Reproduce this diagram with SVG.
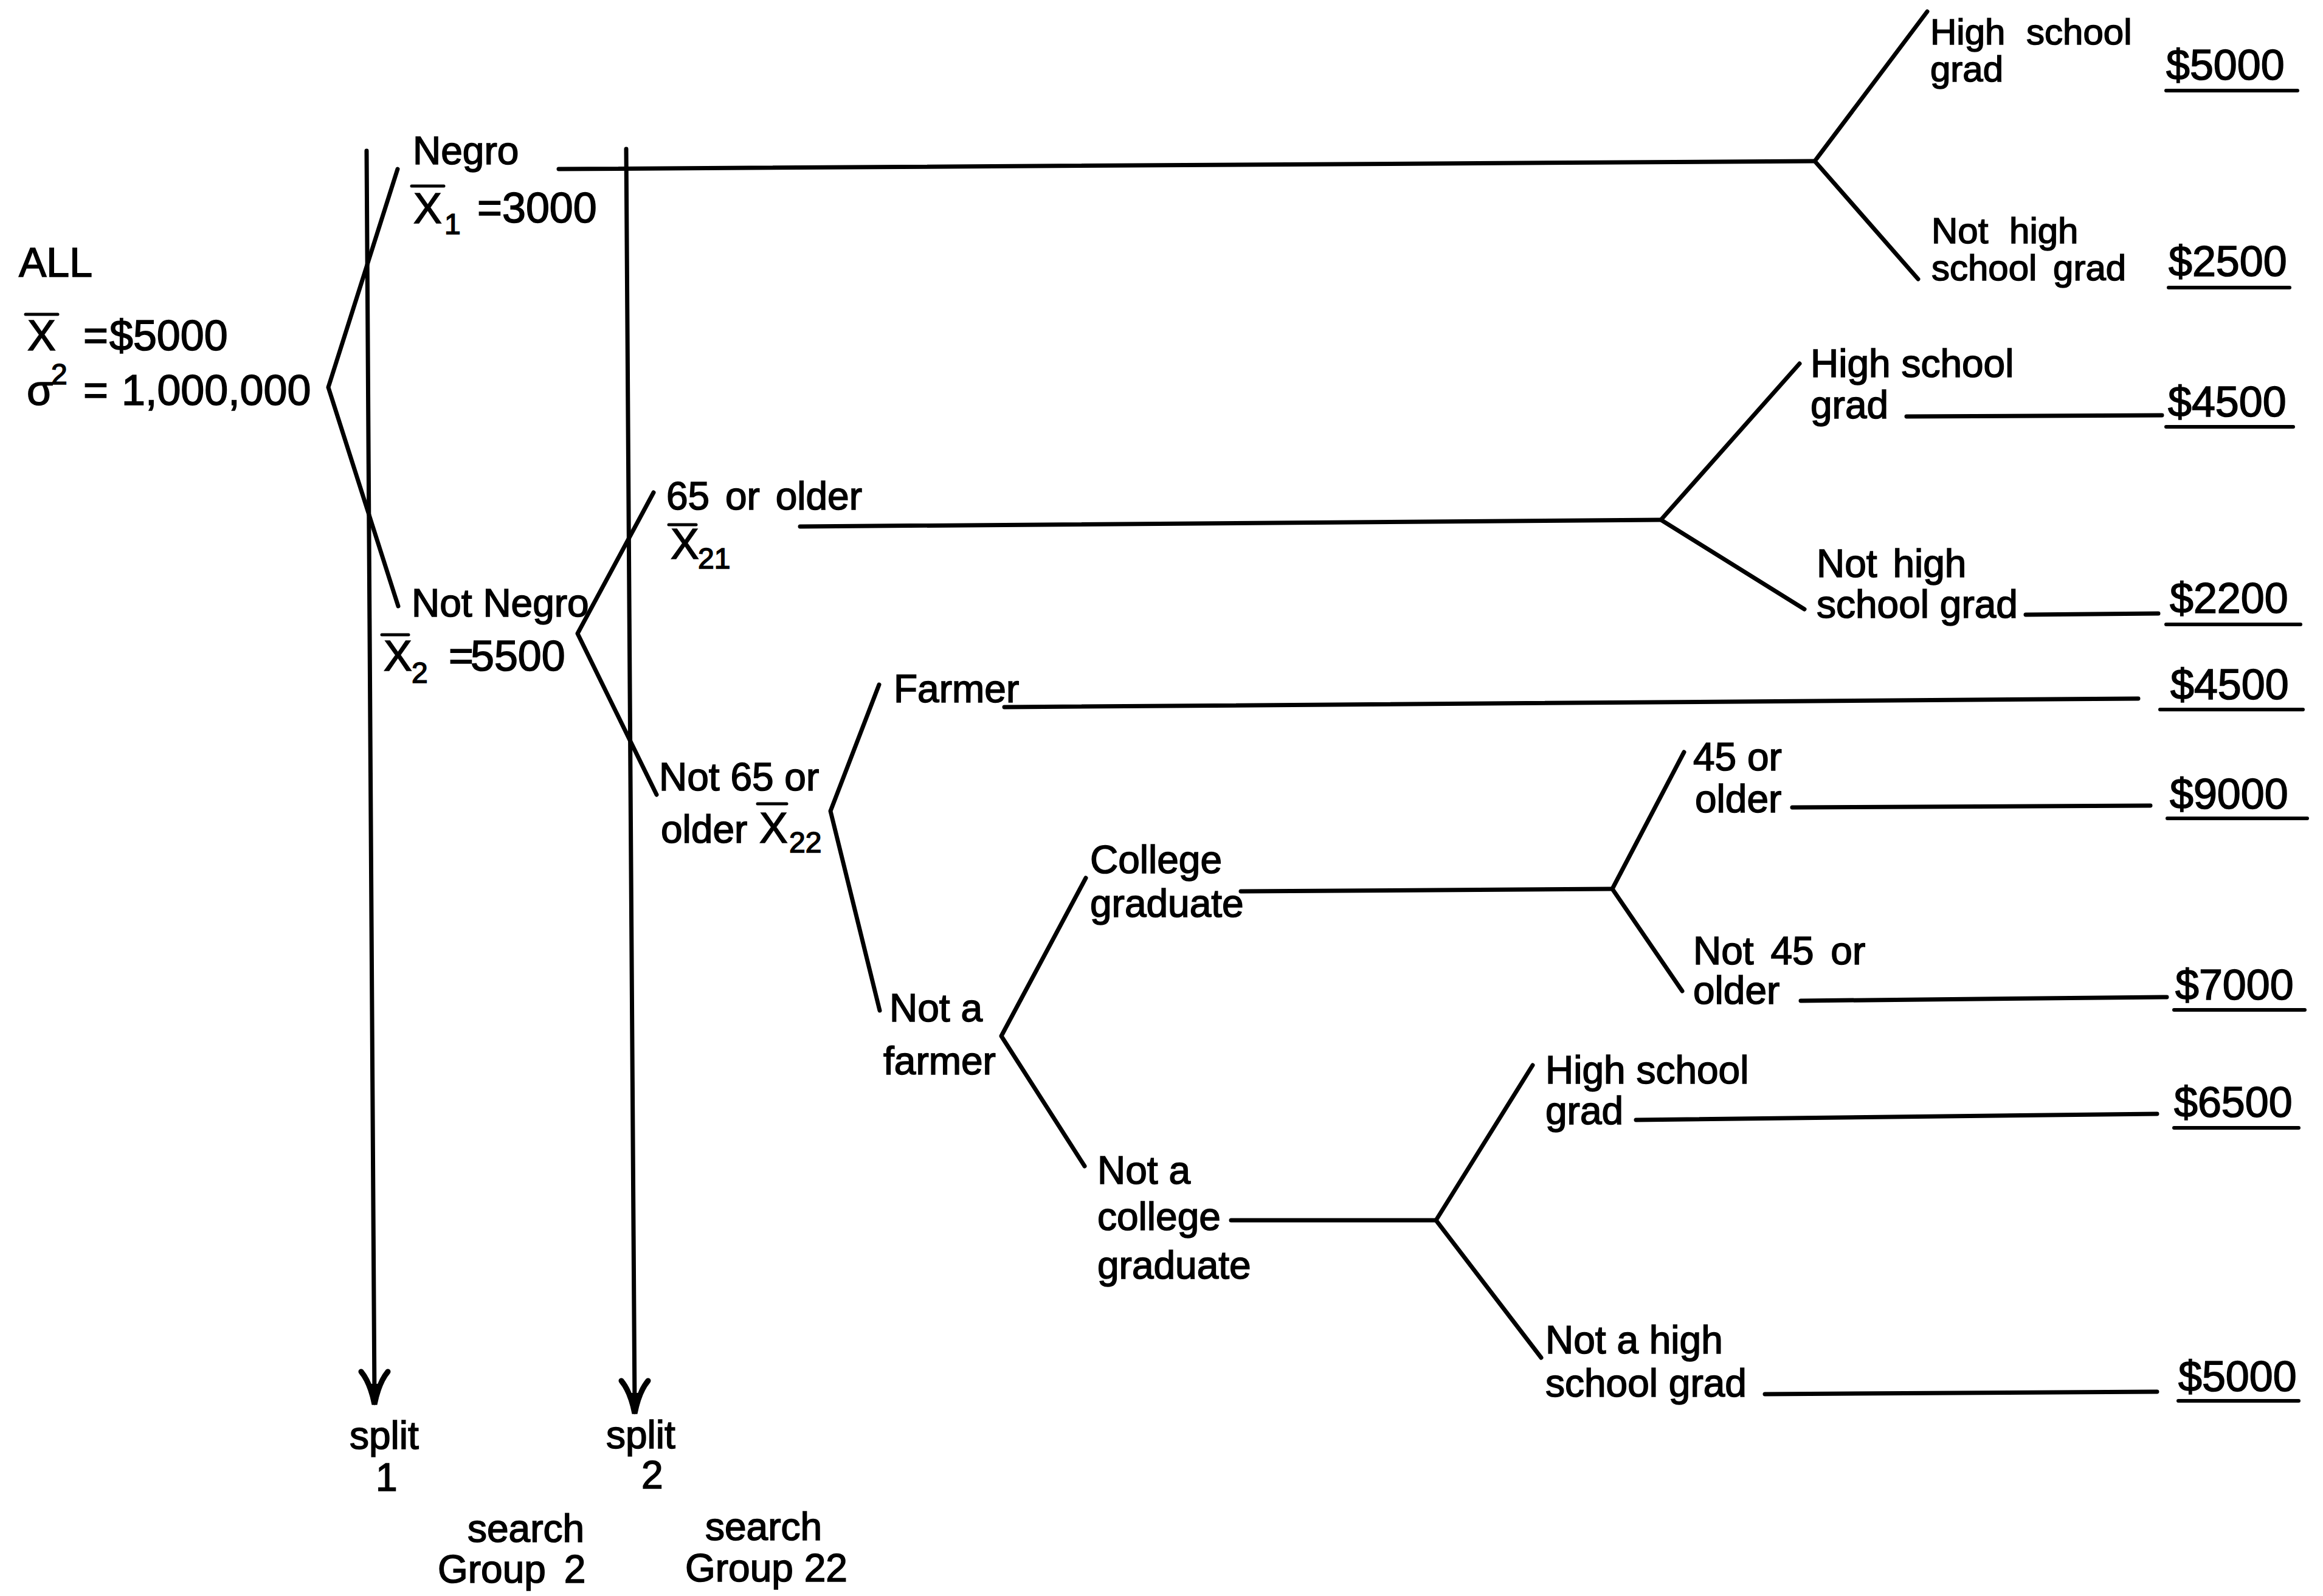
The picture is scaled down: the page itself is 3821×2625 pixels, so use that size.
<svg xmlns="http://www.w3.org/2000/svg" width="3821" height="2625" viewBox="0 0 3821 2625">
  <style>
    text { font-family: "Liberation Sans", Arial, sans-serif; fill: #000; stroke: #000; stroke-width: 1.6px; }
    .lbl { font-size: 64px; }
    .tight { font-size: 60px; }
    .num { font-size: 70px; }
    .sub { font-size: 48px; }
    .conn line, .conn polyline, .conn path { stroke: #000; stroke-width: 7; fill: none; stroke-linecap: round; stroke-linejoin: round; }
    .bar { stroke: #000; stroke-width: 5; stroke-linecap: round; }
    .rule { stroke: #000; stroke-width: 6; stroke-linecap: round; }
  </style>
  <defs>
    <!-- barbed arrowhead, tip at origin, pointing down -->
    <g id="arrowhead">
      <path d="M-22,-54 Q-7,-36 0,0 Q7,-36 22,-54" stroke="#000" stroke-width="9" fill="none" stroke-linecap="round"/>
      <path d="M-10,-34 L10,-34 L0,2 Z" fill="#000"/>
    </g>
  </defs>

  <rect x="0" y="0" width="3821" height="2625" fill="#fff"/>

  <!-- connectors: tree branches, leader lines and split arrows -->
  <g id="connectors" class="conn">
    <!-- split arrows -->
    <line x1="603" y1="248" x2="616" y2="2300"/>
    <line x1="1030" y1="245" x2="1044" y2="2315"/>
    <!-- ALL -> Negro / Not Negro -->
    <polyline points="654,278 540,637 655,997"/>
    <!-- Negro -> education split -->
    <line x1="919" y1="278" x2="2985" y2="265"/>
    <polyline points="3170,19 2985,265 3155,459"/>
    <!-- Not Negro -> 65 or older / Not 65 -->
    <polyline points="1075,810 950,1042 1080,1307"/>
    <!-- 65 or older -> education split -->
    <line x1="1316" y1="866" x2="2732" y2="855"/>
    <polyline points="2960,598 2732,855 2968,1002"/>
    <line x1="3136" y1="685" x2="3556" y2="683"/>
    <line x1="3332" y1="1011" x2="3550" y2="1009"/>
    <!-- Not 65 -> Farmer / Not a farmer -->
    <polyline points="1446,1126 1366,1334 1447,1662"/>
    <line x1="1652" y1="1163" x2="3517" y2="1149"/>
    <!-- Not a farmer -> College / Not college -->
    <polyline points="1786,1444 1647,1704 1784,1918"/>
    <line x1="2041" y1="1466" x2="2652" y2="1462"/>
    <polyline points="2770,1237 2652,1462 2767,1630"/>
    <line x1="2948" y1="1328" x2="3537" y2="1325"/>
    <line x1="2962" y1="1646" x2="3564" y2="1640"/>
    <!-- Not a college graduate -> high school split -->
    <line x1="2025" y1="2007" x2="2362" y2="2007"/>
    <polyline points="2521,1752 2362,2007 2535,2233"/>
    <line x1="2691" y1="1842" x2="3548" y2="1832"/>
    <line x1="2903" y1="2293" x2="3548" y2="2289"/>
  </g>
  <use href="#arrowhead" x="616" y="2310"/>
  <use href="#arrowhead" x="1044" y="2325"/>

  <!-- root -->
  <g id="node-all">
    <text class="lbl" x="31" y="455" style="font-size:68px">ALL</text>
    <text class="num" x="45" y="576">X</text>
    <line class="bar" x1="42" y1="517" x2="95" y2="517"/>
    <text class="num" x="137" y="576">=</text>
    <text class="num" x="180" y="576">$5000</text>
    <text class="num" x="44" y="666">σ</text>
    <text class="sub" x="84" y="632">2</text>
    <text class="num" x="137" y="666">=</text>
    <text class="num" x="200" y="666">1,000,000</text>
  </g>

  <g id="node-negro">
    <text class="lbl" x="679" y="270">Negro</text>
    <text class="num" x="680" y="367">X</text>
    <line class="bar" x1="677" y1="306" x2="730" y2="306"/>
    <text class="sub" x="731" y="385">1</text>
    <text class="num" x="785" y="366">=</text>
    <text class="num" x="826" y="366">3000</text>
  </g>

  <g id="node-not-negro">
    <text class="lbl" x="677" y="1014">Not Negro</text>
    <text class="num" x="631" y="1103">X</text>
    <line class="bar" x1="628" y1="1044" x2="672" y2="1044"/>
    <text class="sub" x="677" y="1123">2</text>
    <text class="num" x="738" y="1103">=</text>
    <text class="num" x="774" y="1103">5500</text>
  </g>

  <g id="node-65-or-older">
    <text class="lbl" x="1096" y="838" style="word-spacing:8px">65 or older</text>
    <text class="num" x="1103" y="919">X</text>
    <line class="bar" x1="1100" y1="863" x2="1145" y2="863"/>
    <text class="sub" x="1148" y="935">21</text>
  </g>

  <g id="node-not-65">
    <text class="lbl" x="1084" y="1300">Not 65 or</text>
    <text class="lbl" x="1087" y="1386">older</text>
    <text class="num" x="1249" y="1386">X</text>
    <line class="bar" x1="1246" y1="1322" x2="1294" y2="1322"/>
    <text class="sub" x="1298" y="1402">22</text>
  </g>

  <g id="node-negro-hs">
    <text class="tight" x="3175" y="73" style="word-spacing:18px">High school</text>
    <text class="tight" x="3175" y="134">grad</text>
    <text class="num" x="3563" y="131">$5000</text>
    <line class="rule" x1="3563" y1="149" x2="3779" y2="149"/>
  </g>

  <g id="node-negro-not-hs">
    <text class="tight" x="3177" y="400" style="word-spacing:18px">Not high</text>
    <text class="tight" x="3177" y="461" style="word-spacing:10px">school grad</text>
    <text class="num" x="3567" y="454">$2500</text>
    <line class="rule" x1="3567" y1="473" x2="3766" y2="473"/>
  </g>

  <g id="node-old-hs">
    <text class="lbl" x="2978" y="620">High school</text>
    <text class="lbl" x="2978" y="688">grad</text>
    <text class="num" x="3566" y="685">$4500</text>
    <line class="rule" x1="3563" y1="702" x2="3772" y2="702"/>
  </g>

  <g id="node-old-not-hs">
    <text class="lbl" x="2988" y="949" style="word-spacing:8px">Not high</text>
    <text class="lbl" x="2988" y="1016">school grad</text>
    <text class="num" x="3569" y="1008">$2200</text>
    <line class="rule" x1="3563" y1="1027" x2="3784" y2="1027"/>
  </g>

  <g id="node-farmer">
    <text class="lbl" x="1470" y="1155">Farmer</text>
    <text class="num" x="3570" y="1150">$4500</text>
    <line class="rule" x1="3553" y1="1167" x2="3788" y2="1167"/>
  </g>

  <g id="node-not-farmer">
    <text class="lbl" x="1463" y="1680">Not a</text>
    <text class="lbl" x="1453" y="1767">farmer</text>
  </g>

  <g id="node-college">
    <text class="lbl" x="1793" y="1436">College</text>
    <text class="lbl" x="1793" y="1508">graduate</text>
  </g>

  <g id="node-college-45">
    <text class="lbl" x="2785" y="1267">45 or</text>
    <text class="lbl" x="2788" y="1336">older</text>
    <text class="num" x="3569" y="1330">$9000</text>
    <line class="rule" x1="3565" y1="1346" x2="3795" y2="1346"/>
  </g>

  <g id="node-college-not-45">
    <text class="lbl" x="2785" y="1586" style="word-spacing:10px">Not 45 or</text>
    <text class="lbl" x="2785" y="1651">older</text>
    <text class="num" x="3578" y="1644">$7000</text>
    <line class="rule" x1="3576" y1="1661" x2="3791" y2="1661"/>
  </g>

  <g id="node-not-college">
    <text class="lbl" x="1805" y="1947">Not a</text>
    <text class="lbl" x="1805" y="2023">college</text>
    <text class="lbl" x="1805" y="2103">graduate</text>
  </g>

  <g id="node-nc-hs">
    <text class="lbl" x="2542" y="1782">High school</text>
    <text class="lbl" x="2542" y="1849">grad</text>
    <text class="num" x="3576" y="1837">$6500</text>
    <line class="rule" x1="3576" y1="1855" x2="3781" y2="1855"/>
  </g>

  <g id="node-nc-not-hs">
    <text class="lbl" x="2542" y="2226">Not a high</text>
    <text class="lbl" x="2542" y="2297">school grad</text>
    <text class="num" x="3583" y="2288">$5000</text>
    <line class="rule" x1="3583" y1="2304" x2="3781" y2="2304"/>
  </g>

  <!-- split / search captions -->
  <g id="split-1">
    <text class="lbl" x="575" y="2383">split</text>
    <text class="lbl" x="618" y="2452">1</text>
  </g>
  <g id="split-2">
    <text class="lbl" x="997" y="2382">split</text>
    <text class="lbl" x="1055" y="2448">2</text>
  </g>
  <g id="search-2">
    <text class="lbl" x="769" y="2536">search</text>
    <text class="lbl" x="720" y="2603" style="word-spacing:12px">Group 2</text>
  </g>
  <g id="search-22">
    <text class="lbl" x="1160" y="2533">search</text>
    <text class="lbl" x="1127" y="2601">Group 22</text>
  </g>
</svg>
